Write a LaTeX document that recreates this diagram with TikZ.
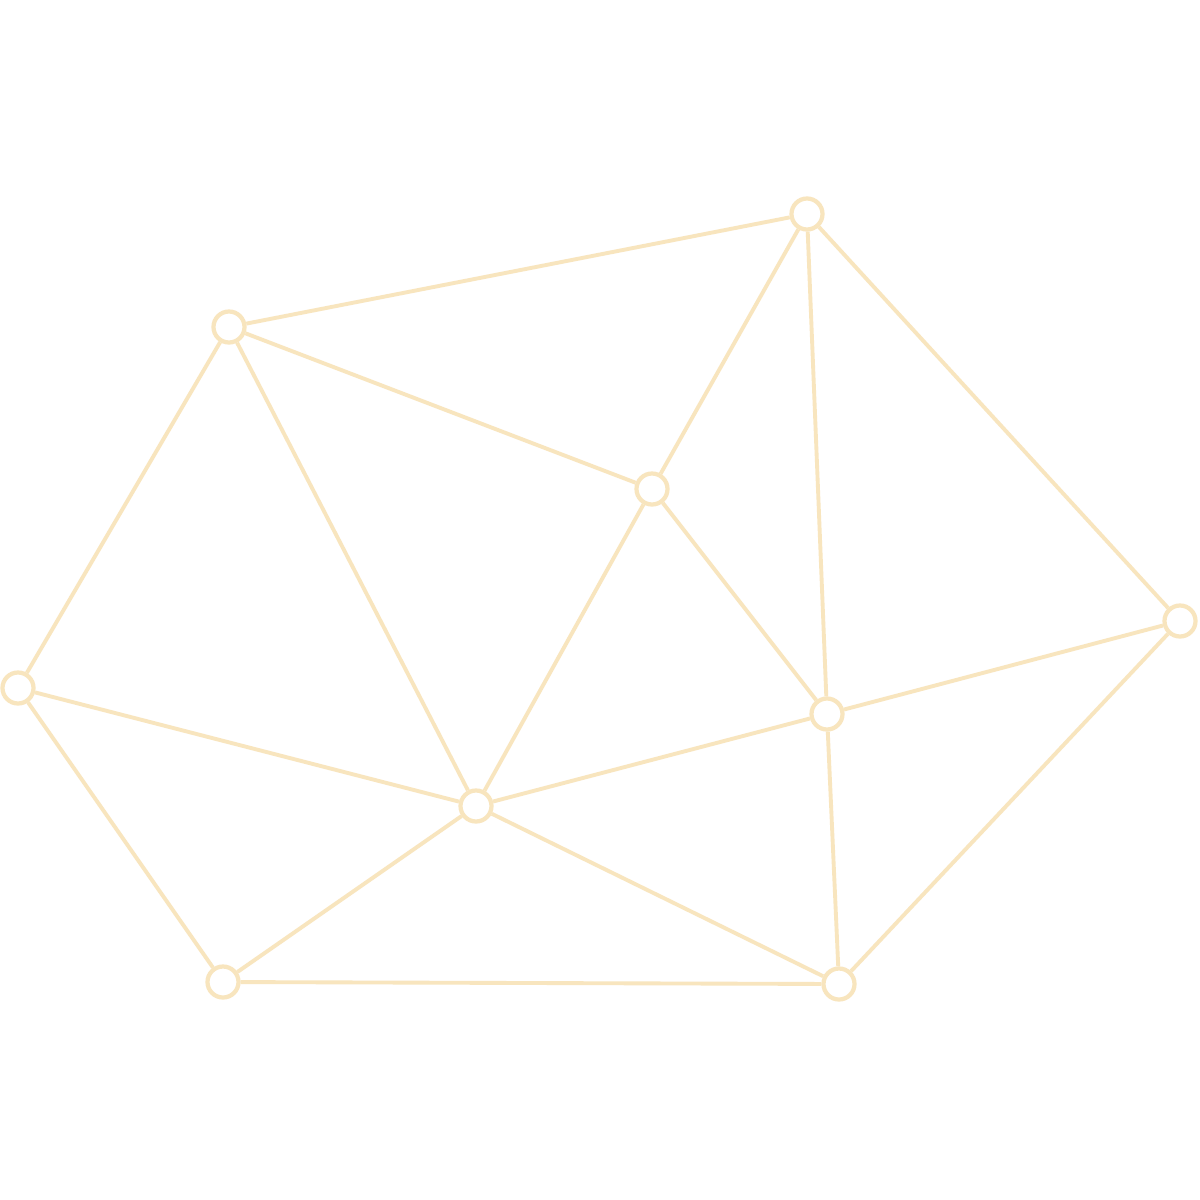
\documentclass[tikz,border=0pt]{standalone}
\definecolor{beige}{RGB}{248,229,190}
\begin{document}
\begin{tikzpicture}[x=0.01cm,y=-0.01cm,
  vert/.style={circle,draw=beige,fill=white,line width=1.2pt,minimum size=0.31cm,inner sep=0pt},
  edge/.style={draw=beige,line width=1.1pt}]
\useasboundingbox[fill=white] (0,0) rectangle (1200,1200);
\node[vert] (A) at (229,327) {};
\node[vert] (B) at (807,214) {};
\node[vert] (C) at (652,489) {};
\node[vert] (D) at (1180,621) {};
\node[vert] (E) at (18,688) {};
\node[vert] (F) at (827,714) {};
\node[vert] (G) at (476,806) {};
\node[vert] (H) at (223,982) {};
\node[vert] (I) at (839,984) {};
\path[edge] (A) -- (B) (A) -- (C) (A) -- (E) (A) -- (G)
  (B) -- (C) (B) -- (F) (F) -- (I) (B) -- (D)
  (C) -- (G) (C) -- (F) (D) -- (F) (D) -- (I)
  (E) -- (G) (E) -- (H) (G) -- (F) (G) -- (H) (G) -- (I) (H) -- (I);
\end{tikzpicture}
\end{document}
